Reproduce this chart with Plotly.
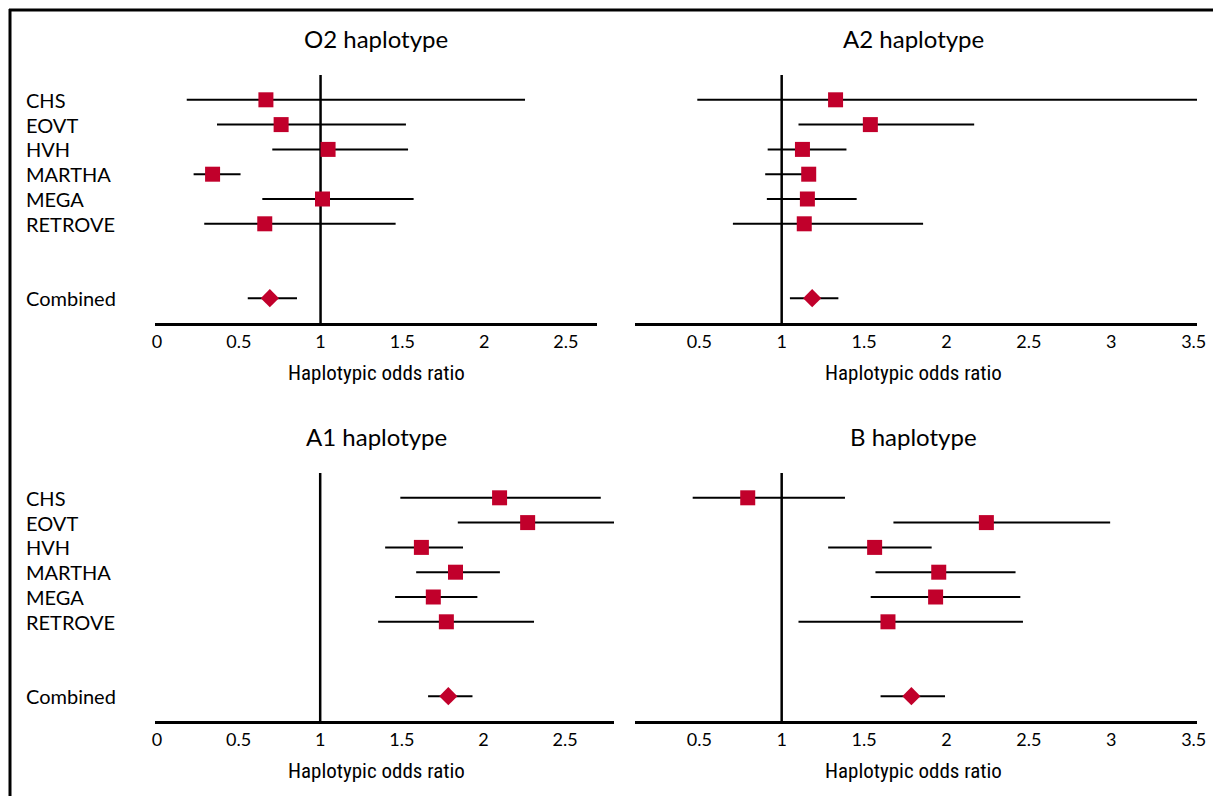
import plotly.graph_objects as go

W, H = 1213, 796

studies = ["CHS", "EOVT", "HVH", "MARTHA", "MEGA", "RETROVE"]
combined_label = "Combined"

panel_titles = ["O2 haplotype", "A2 haplotype", "A1 haplotype", "B haplotype"]

# odds ratio estimates, lower CI, upper CI per study; combined = [estimate, lower, upper]
o2_est = [0.666, 0.759, 1.046, 0.340, 1.012, 0.659]
o2_lo = [0.182, 0.367, 0.705, 0.224, 0.644, 0.289]
o2_hi = [2.250, 1.522, 1.535, 0.511, 1.569, 1.459]
o2_comb = [0.690, 0.555, 0.856]

a2_est = [1.327, 1.538, 1.126, 1.164, 1.156, 1.137]
a2_lo = [0.488, 1.102, 0.915, 0.900, 0.910, 0.704]
a2_hi = [3.600, 2.168, 1.393, 1.190, 1.455, 1.858]
a2_comb = [1.185, 1.050, 1.344]

a1_est = [2.099, 2.271, 1.620, 1.829, 1.693, 1.773]
a1_lo = [1.491, 1.843, 1.398, 1.588, 1.459, 1.355]
a1_hi = [2.719, 2.900, 1.875, 2.101, 1.963, 2.310]
a1_comb = [1.785, 1.661, 1.933]

b_est = [0.794, 2.242, 1.564, 1.953, 1.934, 1.645]
b_lo = [0.460, 1.678, 1.282, 1.569, 1.540, 1.102]
b_hi = [1.384, 2.993, 1.910, 2.419, 2.448, 2.464]
b_comb = [1.787, 1.600, 1.991]

left_ticks = [0, 0.5, 1, 1.5, 2, 2.5]
left_ticktext = ["0", "0.5", "1", "1.5", "2", "2.5"]
right_ticks = [0.5, 1, 1.5, 2, 2.5, 3, 3.5]
right_ticktext = ["0.5", "1", "1.5", "2", "2.5", "3", "3.5"]
x_title = "Haplotypic odds ratio"
ref_value = 1

RED = "#C1002B"
FONT = "Lato, 'Noto Sans', sans-serif"
NARROW = "'Liberation Sans Narrow', 'Roboto Condensed', 'DejaVu Sans Condensed', sans-serif"

def px_x(p):
    return min(p / W, 1.0)

def px_y(p):
    return 1 - p / H

panels = [
    dict(est=o2_est, lo=o2_lo, hi=o2_hi, comb=o2_comb, xd=[155, 597], yd=[75, 323],
         rng=[-0.012, 2.69], tv=left_ticks, tt=left_ticktext, labels=True, cx=376),
    dict(est=a2_est, lo=a2_lo, hi=a2_hi, comb=a2_comb, xd=[635, 1197], yd=[75, 323],
         rng=[0.11, 3.52], tv=right_ticks, tt=right_ticktext, labels=False, cx=913),
    dict(est=a1_est, lo=a1_lo, hi=a1_hi, comb=a1_comb, xd=[155, 614], yd=[473, 721],
         rng=[-0.012, 2.80], tv=left_ticks, tt=left_ticktext, labels=True, cx=376),
    dict(est=b_est, lo=b_lo, hi=b_hi, comb=b_comb, xd=[635, 1197], yd=[473, 721],
         rng=[0.11, 3.52], tv=right_ticks, tt=right_ticktext, labels=False, cx=913),
]

fig = go.Figure()
annotations = []
shapes = []
n = len(studies)
rows = list(range(n))
comb_row = n + 2

for i, p in enumerate(panels):
    k = "" if i == 0 else str(i + 1)
    xa, ya = "x" + k, "y" + k
    est, lo, hi = p["est"], p["lo"], p["hi"]
    fig.add_trace(go.Scatter(
        x=est, y=rows, xaxis=xa, yaxis=ya, mode="markers",
        marker=dict(symbol="square", size=15, color=RED, line=dict(width=0)),
        error_x=dict(type="data", symmetric=False,
                     array=[h - e for h, e in zip(hi, est)],
                     arrayminus=[e - l for e, l in zip(est, lo)],
                     color="black", thickness=2, width=0),
        showlegend=False, hoverinfo="skip"))
    ce, cl, ch = p["comb"]
    fig.add_trace(go.Scatter(
        x=[ce], y=[comb_row], xaxis=xa, yaxis=ya, mode="markers",
        marker=dict(symbol="diamond", size=14, color=RED, line=dict(width=0)),
        error_x=dict(type="data", symmetric=False, array=[ch - ce], arrayminus=[ce - cl],
                     color="black", thickness=2, width=0),
        showlegend=False, hoverinfo="skip"))

    fig.layout["xaxis" + k] = dict(
        domain=[px_x(p["xd"][0]), px_x(p["xd"][1])], range=p["rng"], anchor=ya,
        tickvals=p["tv"], ticktext=p["tt"], ticks="", showgrid=False, zeroline=False,
        showline=True, linewidth=3, linecolor="black", automargin=False,
        ticklabeloverflow="allow",
        tickfont=dict(family=FONT, size=18, color="black"), ticklabelstandoff=0,
        fixedrange=True)
    fig.layout["yaxis" + k] = dict(
        domain=[px_y(p["yd"][1]), px_y(p["yd"][0])], range=[comb_row + 1, -1], anchor=xa,
        visible=False, fixedrange=True, automargin=False)

    shapes.append(dict(type="line", xref=xa, yref=ya + " domain", x0=ref_value, x1=ref_value,
                       y0=0, y1=1, line=dict(color="black", width=2.5), layer="below"))

    cx = px_x(p["cx"])
    top = p["yd"][0]
    annotations.append(dict(text=panel_titles[i], xref="paper", yref="paper", x=cx,
                            y=px_y(top - 37), xanchor="center", yanchor="middle", showarrow=False,
                            font=dict(family=FONT, size=24, color="black")))
    annotations.append(dict(text=x_title, xref="paper", yref="paper", x=cx,
                            y=px_y(p["yd"][1] + 50), xanchor="center", yanchor="middle",
                            showarrow=False, font=dict(family=NARROW, size=21, color="black")))
    if p["labels"]:
        for s, r in zip(studies + [combined_label], rows + [comb_row]):
            annotations.append(dict(text=s, xref="paper", yref=ya, x=px_x(24), y=r,
                                    xanchor="left", yanchor="middle", showarrow=False,
                                    font=dict(family=FONT, size=20, color="black")))

# figure frame (top and left border)
shapes.append(dict(type="line", xref="paper", yref="paper", x0=px_x(9), x1=1,
                   y0=px_y(10), y1=px_y(10), line=dict(color="black", width=3)))
shapes.append(dict(type="line", xref="paper", yref="paper", x0=px_x(10), x1=px_x(10),
                   y0=px_y(9), y1=0, line=dict(color="black", width=3)))

fig.update_layout(autosize=True, margin=dict(l=0, r=0, t=0, b=0, autoexpand=False),
                  paper_bgcolor="white", plot_bgcolor="white",
                  annotations=annotations, shapes=shapes)

fig.write_html(
    "out.html", config={"displayModeBar": False, "responsive": True},
    default_width="100vw", default_height="100vh",
    post_script=("document.documentElement.style.margin='0';"
                 "document.body.style.margin='0';document.body.style.overflow='hidden';"
                 "document.documentElement.style.overflow='hidden';"
                 "Plotly.Plots.resize(document.getElementById('{plot_id}'));"))
